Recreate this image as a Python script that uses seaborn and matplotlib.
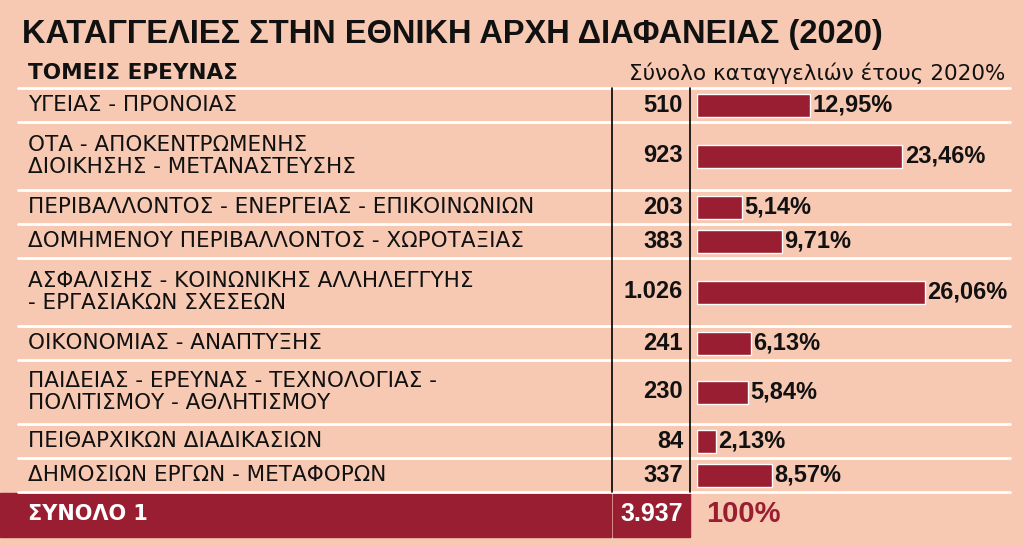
import matplotlib
matplotlib.use("Agg")
import matplotlib.pyplot as plt
import seaborn as sns

# data
sectors = [
    "ΥΓΕΙΑΣ - ΠΡΟΝΟΙΑΣ",
    "ΟΤΑ - ΑΠΟΚΕΝΤΡΩΜΕΝΗΣ\nΔΙΟΙΚΗΣΗΣ - ΜΕΤΑΝΑΣΤΕΥΣΗΣ",
    "ΠΕΡΙΒΑΛΛΟΝΤΟΣ - ΕΝΕΡΓΕΙΑΣ - ΕΠΙΚΟΙΝΩΝΙΩΝ",
    "ΔΟΜΗΜΕΝΟΥ ΠΕΡΙΒΑΛΛΟΝΤΟΣ - ΧΩΡΟΤΑΞΙΑΣ",
    "ΑΣΦΑΛΙΣΗΣ - ΚΟΙΝΩΝΙΚΗΣ ΑΛΛΗΛΕΓΓΥΗΣ\n- ΕΡΓΑΣΙΑΚΩΝ ΣΧΕΣΕΩΝ",
    "ΟΙΚΟΝΟΜΙΑΣ - ΑΝΑΠΤΥΞΗΣ",
    "ΠΑΙΔΕΙΑΣ - ΕΡΕΥΝΑΣ - ΤΕΧΝΟΛΟΓΙΑΣ -\nΠΟΛΙΤΙΣΜΟΥ - ΑΘΛΗΤΙΣΜΟΥ",
    "ΠΕΙΘΑΡΧΙΚΩΝ ΔΙΑΔΙΚΑΣΙΩΝ",
    "ΔΗΜΟΣΙΩΝ ΕΡΓΩΝ - ΜΕΤΑΦΟΡΩΝ",
]
counts = ["510", "923", "203", "383", "1.026", "241", "230", "84", "337"]
shares = [12.95, 23.46, 5.14, 9.71, 26.06, 6.13, 5.84, 2.13, 8.57]
share_labels = ["12,95%", "23,46%", "5,14%", "9,71%", "26,06%", "6,13%", "5,84%", "2,13%", "8,57%"]
total_label, total_count, total_share = "ΣΥΝΟΛΟ 1", "3.937", "100%"
title = "ΚΑΤΑΓΓΕΛΙΕΣ ΣΤΗΝ ΕΘΝΙΚΗ ΑΡΧΗ ΔΙΑΦΑΝΕΙΑΣ (2020)"

BG = "#F7C8B2"
RED = "#9A1E32"
sns.set_style("white")
plt.rcParams["font.family"] = ["DejaVu Sans"]
NARROW = ["Liberation Sans", "DejaVu Sans"]

fig = plt.figure(figsize=(10.24, 5.46), dpi=100, facecolor=BG)
ax = fig.add_axes([0, 0, 1, 1])
ax.set_xlim(0, 1024)
ax.set_ylim(546, 0)
ax.axis("off")

# row layout in pixels
top = 88
row_h = [34 if "\n" not in s else 68 for s in sectors]
row_h[6] = 64
edges = [top]
for h in row_h:
    edges.append(edges[-1] + h)
centers = [(a + b) / 2 for a, b in zip(edges[:-1], edges[1:])]
bottom = edges[-1]

ax.text(22, 34, title, fontsize=23.5, fontweight="bold", family=NARROW, va="center", color="#111")
ax.text(28, 73, "ΤΟΜΕΙΣ ΕΡΕΥΝΑΣ", fontsize=15.5, fontweight="bold", va="center", color="#111")
ax.text(1005, 73, "Σύνολο καταγγελιών έτους 2020%", fontsize=15.5, va="center", ha="right",
        color="#111")

for y in edges:
    ax.plot([18, 1010], [y, y], color="white", lw=2)
for x in (612, 690):
    ax.plot([x, x], [top, bottom], color="black", lw=1.2)

for s, c, y in zip(sectors, counts, centers):
    ax.text(28, y, s, fontsize=15.5, va="center", linespacing=1.15, color="#111")
    ax.text(683, y, c, fontsize=17, fontweight="bold", family=NARROW, va="center", ha="right",
            color="#111")

# total row
ax.add_patch(plt.Rectangle((0, bottom + 1), 611, 44, color=RED))
ax.add_patch(plt.Rectangle((613, bottom + 1), 77, 44, color=RED))
ax.text(28, bottom + 22, total_label, fontsize=15, fontweight="bold", color="white", va="center")
ax.text(683, bottom + 22, total_count, fontsize=18, fontweight="bold", family=NARROW,
        color="white", va="center", ha="right")
ax.text(706, bottom + 22, total_share, fontsize=21, fontweight="bold", family=NARROW,
        color=RED, va="center")

# bars
bx = fig.add_axes([697 / 1024, 0, 327 / 1024, 1])
bx.set_xlim(0, 37.4)
bx.set_ylim(546, 0)
bx.axis("off")
bx.patch.set_alpha(0)
bx.barh(centers, shares, height=23, color=RED)
for y, v, lab in zip(centers, shares, share_labels):
    bx.text(v + 0.3, y, lab, fontsize=17, fontweight="bold", family=NARROW, va="center",
            color="#111")

fig.savefig("out.png", dpi=100, facecolor=BG)
